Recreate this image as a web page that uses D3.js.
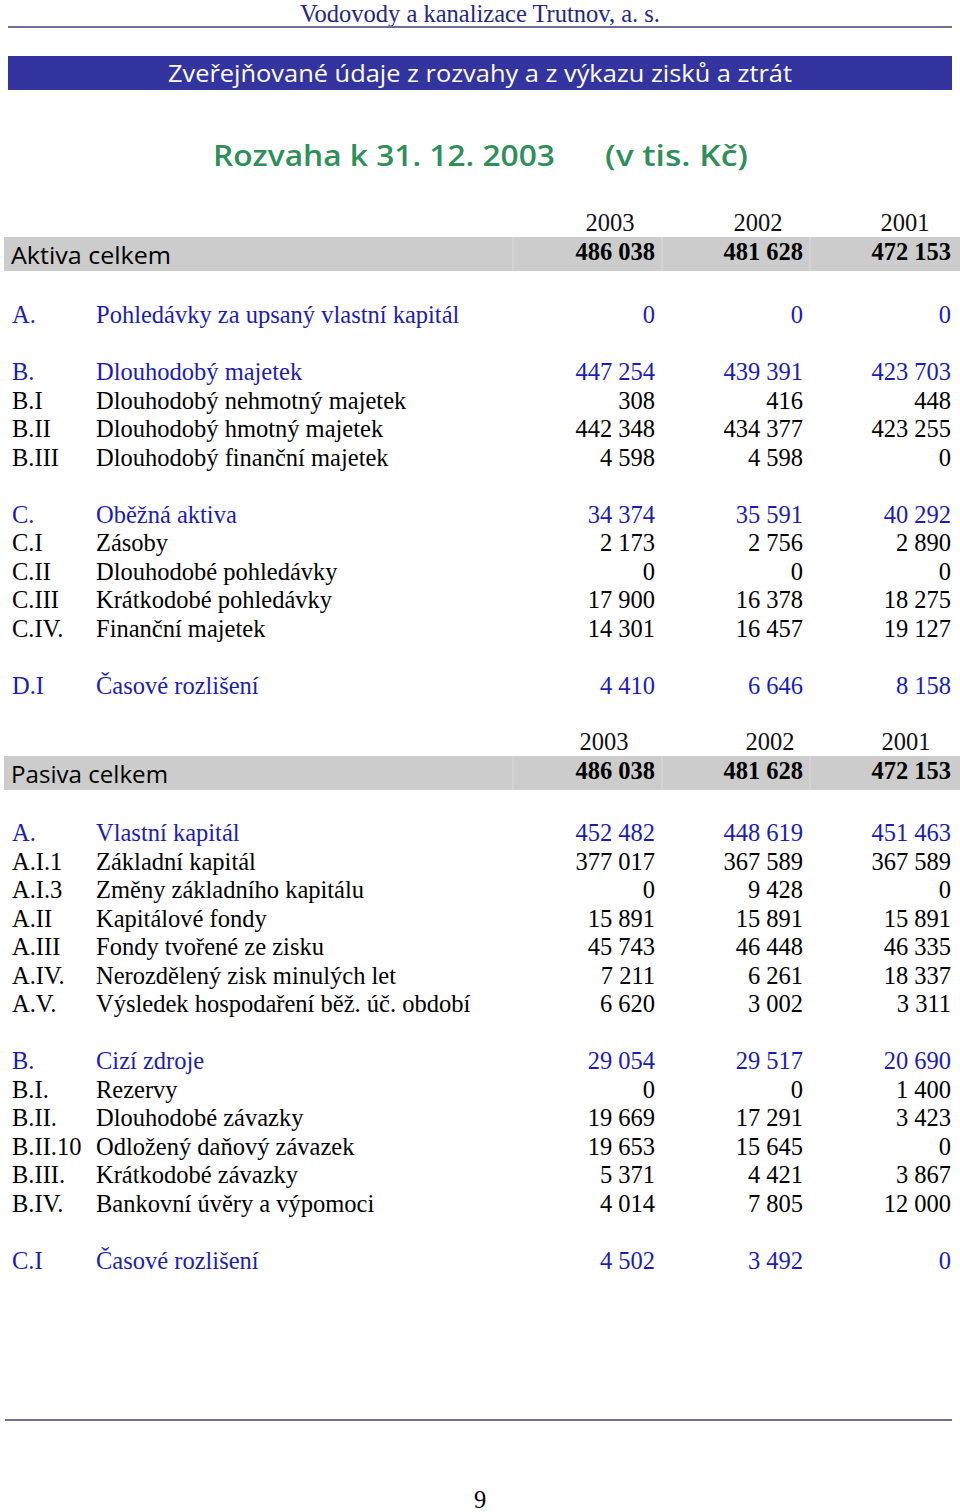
<!DOCTYPE html>
<html>
<head>
<meta charset="utf-8">
<script src="https://cdn.jsdelivr.net/npm/d3@7"></script>
<style>
  body { margin: 0; background: #fff; }
  svg { display: block; }
</style>
</head>
<body>
<div id="chart"></div>
<script>
// column headers
const years = ["2003", "2002", "2001"];

// Aktiva (null row = empty spacer line)
const aktivaCodes  = ["A.", null, "B.", "B.I", "B.II", "B.III", null, "C.", "C.I", "C.II", "C.III", "C.IV.", null, "D.I"];
const aktivaLabels = ["Pohledávky za upsaný vlastní kapitál", null, "Dlouhodobý majetek", "Dlouhodobý nehmotný majetek",
  "Dlouhodobý hmotný majetek", "Dlouhodobý finanční majetek", null, "Oběžná aktiva", "Zásoby",
  "Dlouhodobé pohledávky", "Krátkodobé pohledávky", "Finanční majetek", null, "Časové rozlišení"];
const aktiva2003 = [0, null, 447254, 308, 442348, 4598, null, 34374, 2173, 0, 17900, 14301, null, 4410];
const aktiva2002 = [0, null, 439391, 416, 434377, 4598, null, 35591, 2756, 0, 16378, 16457, null, 6646];
const aktiva2001 = [0, null, 423703, 448, 423255, 0, null, 40292, 2890, 0, 18275, 19127, null, 8158];
const aktivaHeads = ["A.", "B.", "C.", "D.I"];
const aktivaTotal = [486038, 481628, 472153];

// Pasiva
const pasivaCodes  = ["A.", "A.I.1", "A.I.3", "A.II", "A.III", "A.IV.", "A.V.", null, "B.", "B.I.", "B.II.", "B.II.10", "B.III.", "B.IV.", null, "C.I"];
const pasivaLabels = ["Vlastní kapitál", "Základní kapitál", "Změny základního kapitálu", "Kapitálové fondy",
  "Fondy tvořené ze zisku", "Nerozdělený zisk minulých let", "Výsledek hospodaření běž. úč. období", null,
  "Cizí zdroje", "Rezervy", "Dlouhodobé závazky", "Odložený daňový závazek", "Krátkodobé závazky",
  "Bankovní úvěry a výpomoci", null, "Časové rozlišení"];
const pasiva2003 = [452482, 377017, 0, 15891, 45743, 7211, 6620, null, 29054, 0, 19669, 19653, 5371, 4014, null, 4502];
const pasiva2002 = [448619, 367589, 9428, 15891, 46448, 6261, 3002, null, 29517, 0, 17291, 15645, 4421, 7805, null, 3492];
const pasiva2001 = [451463, 367589, 0, 15891, 46335, 18337, 3311, null, 20690, 1400, 3423, 0, 3867, 12000, null, 0];
const pasivaHeads = ["A.", "B.", "C.I"];
const pasivaTotal = [486038, 481628, 472153];

const W = 960, H = 1512;
const serif = "'Liberation Serif', 'Times New Roman', serif";
const comic = "'Open Sans', 'DejaVu Sans', sans-serif";
const blue = "#1c1cb4";
const fs = 24.5;

const fmt = d3.formatLocale({ decimal: ",", thousands: " ", grouping: [3], currency: ["", ""] }).format(",d");

const svg = d3.select("#chart").append("svg")
  .attr("width", W).attr("height", H)
  .attr("viewBox", `0 0 ${W} ${H}`);

// column x positions (right edges of the numbers)
const colX = d3.scalePoint().domain(years).range([655, 951]);

// page header
svg.append("text")
  .attr("x", 480).attr("y", 22)
  .attr("text-anchor", "middle")
  .attr("font-family", serif).attr("font-size", 24.5)
  .attr("fill", "#262680")
  .text("Vodovody a kanalizace Trutnov, a. s.");
svg.append("line")
  .attr("x1", 8).attr("x2", 952).attr("y1", 27).attr("y2", 27)
  .attr("stroke", "#6e6e9a").attr("stroke-width", 2);

// blue banner
svg.append("rect")
  .attr("x", 8).attr("y", 56).attr("width", 944).attr("height", 34)
  .attr("fill", "#3434a0");
svg.append("text")
  .attr("x", 480).attr("y", 82)
  .attr("text-anchor", "middle")
  .attr("font-family", comic).attr("font-size", 24)
  .attr("fill", "#fff")
  .attr("textLength", 624).attr("lengthAdjust", "spacingAndGlyphs")
  .text("Zveřejňované údaje z rozvahy a z výkazu zisků a ztrát");

// green title
svg.append("text")
  .attr("x", 213).attr("y", 166)
  .attr("font-family", comic).attr("font-size", 29).attr("font-weight", 600)
  .attr("fill", "#2e8f5a")
  .attr("textLength", 342).attr("lengthAdjust", "spacingAndGlyphs")
  .text("Rozvaha k 31. 12. 2003");
svg.append("text")
  .attr("x", 605).attr("y", 166)
  .attr("font-family", comic).attr("font-size", 29).attr("font-weight", 600)
  .attr("fill", "#2e8f5a")
  .attr("textLength", 143).attr("lengthAdjust", "spacingAndGlyphs")
  .text("(v tis. Kč)");

function totalBlock(top, title, titleW, totals, yearX) {
  const g = svg.append("g");
  g.selectAll("text.year").data(years).join("text")
    .attr("class", "year")
    .attr("x", (d, i) => yearX[i]).attr("y", top - 6)
    .attr("text-anchor", "middle")
    .attr("font-family", serif).attr("font-size", fs)
    .attr("fill", "#111")
    .text(d => d);
  g.append("rect")
    .attr("x", 4).attr("y", top).attr("width", 956).attr("height", 34)
    .attr("fill", "#cccccc");
  [513, 662, 810].forEach(x => g.append("line")
    .attr("x1", x).attr("x2", x).attr("y1", top).attr("y2", top + 34)
    .attr("stroke", "#d6d6d6").attr("stroke-width", 1.5));
  g.append("text")
    .attr("x", 11).attr("y", top + 27)
    .attr("font-family", comic).attr("font-size", 24)
    .attr("fill", "#000")
    .attr("textLength", titleW).attr("lengthAdjust", "spacingAndGlyphs")
    .text(title);
  g.selectAll("text.tot").data(totals).join("text")
    .attr("class", "tot")
    .attr("x", (d, i) => colX(years[i])).attr("y", top + 23)
    .attr("text-anchor", "end")
    .attr("font-family", serif).attr("font-size", fs).attr("font-weight", "bold")
    .attr("fill", "#000")
    .text(d => fmt(d));
}

function rowsBlock(top, codes, labels, v1, v2, v3, heads) {
  const rows = codes.map((c, i) => ({ code: c, label: labels[i], vals: [v1[i], v2[i], v3[i]], i }))
    .filter(r => r.code !== null);
  const y = d3.scaleLinear().domain([0, 1]).range([top, top + 28.5]);
  const g = svg.append("g")
    .attr("font-family", serif).attr("font-size", fs);
  const row = g.selectAll("g.row").data(rows).join("g")
    .attr("class", "row")
    .attr("transform", d => `translate(0,${y(d.i)})`)
    .attr("fill", d => heads.includes(d.code) ? blue : "#000");
  row.append("text").attr("x", 12).attr("y", 8).text(d => d.code);
  row.append("text").attr("x", 96).attr("y", 8).text(d => d.label);
  row.selectAll("text.v").data(d => d.vals).join("text")
    .attr("class", "v")
    .attr("x", (d, i) => colX(years[i])).attr("y", 8)
    .attr("text-anchor", "end")
    .text(d => fmt(d));
}

totalBlock(237, "Aktiva celkem", 160, aktivaTotal, [610, 758, 905]);
rowsBlock(315, aktivaCodes, aktivaLabels, aktiva2003, aktiva2002, aktiva2001, aktivaHeads);

totalBlock(756, "Pasiva celkem", 157, pasivaTotal, [604, 770, 906]);
rowsBlock(833, pasivaCodes, pasivaLabels, pasiva2003, pasiva2002, pasiva2001, pasivaHeads);

// footer
svg.append("line")
  .attr("x1", 5).attr("x2", 952).attr("y1", 1420).attr("y2", 1420)
  .attr("stroke", "#6e6e9a").attr("stroke-width", 2);
svg.append("text")
  .attr("x", 480).attr("y", 1508)
  .attr("text-anchor", "middle")
  .attr("font-family", serif).attr("font-size", fs)
  .attr("fill", "#000")
  .text("9");
</script>
</body>
</html>
